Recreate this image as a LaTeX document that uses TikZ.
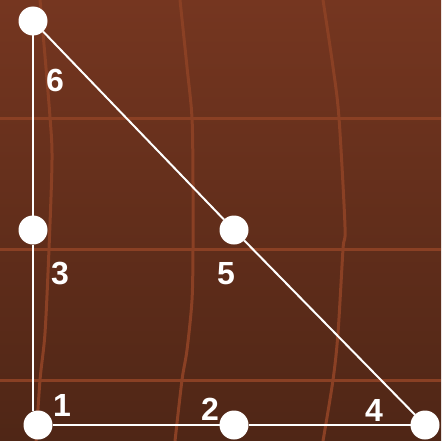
\documentclass[tikz,border=0pt]{standalone}
\usepackage{fontspec}
\setmainfont{Liberation Sans}
\usepackage{tikz}
\usetikzlibrary{positioning}
\definecolor{woodtop}{HTML}{753620}
\definecolor{woodbot}{HTML}{4F2616}
\definecolor{grain}{HTML}{8A4024}
\tikzstyle{grainline} = [grain, line width=3pt]
\tikzstyle{vertex}    = [circle, fill=white, minimum size=29pt, inner sep=0pt, outer sep=0pt]
\tikzstyle{vlabel}    = [text=white, inner sep=0pt, font=\fontsize{32}{32}\selectfont\bfseries]
\tikzstyle{edge}      = [white, line width=2pt]

\begin{document}
\begin{tikzpicture}[
        x=1pt,
        y=-1pt
    ]

        % Hintergrund
        \useasboundingbox (0,0) rectangle (441,441);
        \shade[top color=woodtop, bottom color=woodbot] (0,0) rectangle (441,441);

        % Maserung waagerecht
        \draw[grainline] (0,118) -- (441,118);
        \draw[grainline] (0,249) -- (441,249);
        \draw[grainline] (0,380) -- (441,380);

        % Maserung senkrecht
        \draw[grainline] plot[smooth] coordinates
            {(40,0) (43,33) (50,117) (52,160) (49,249) (45,333) (40,380) (36,441)};
        \draw[grainline] plot[smooth] coordinates
            {(180,0) (187,67) (192,118) (193,183) (193,249) (192,300) (187,350) (182,380) (175,441)};
        \draw[grainline] plot[smooth] coordinates
            {(323,0) (333,67) (339,118) (345,227) (343,249) (338,333) (333,380) (323,441)};

        % Knoten
        \node[vertex] (n1) at (38, 425) {};
        \node[vertex] (n2) at (234, 425) {};
        \node[vertex] (n3) at (33, 230) {};
        \node[vertex] (n4) at (425, 425) {};
        \node[vertex] (n5) at (234, 230) {};
        \node[vertex] (n6) at (33, 21) {};

        % Kanten
        \draw[edge] (n6) -- (n3);
        \draw[edge] (n3) -- (n3 |- n1.north);
        \draw[edge] (n1) -- (n2);
        \draw[edge] (n2) -- (n4);
        \draw[edge] (n6) -- (n5);
        \draw[edge] (n5) -- (n4);

        % Nummern
        \node[vlabel] (l1) at (62, 405) {1};
        \node[vlabel] (l2) at (210, 409) {2};
        \node[vlabel] (l3) at (60, 274) {3};
        \node[vlabel] (l4) at (374, 410) {4};
        \node[vlabel] (l5) at (226, 274) {5};
        \node[vlabel] (l6) at (55, 80) {6};

    \end{tikzpicture}
\end{document}
